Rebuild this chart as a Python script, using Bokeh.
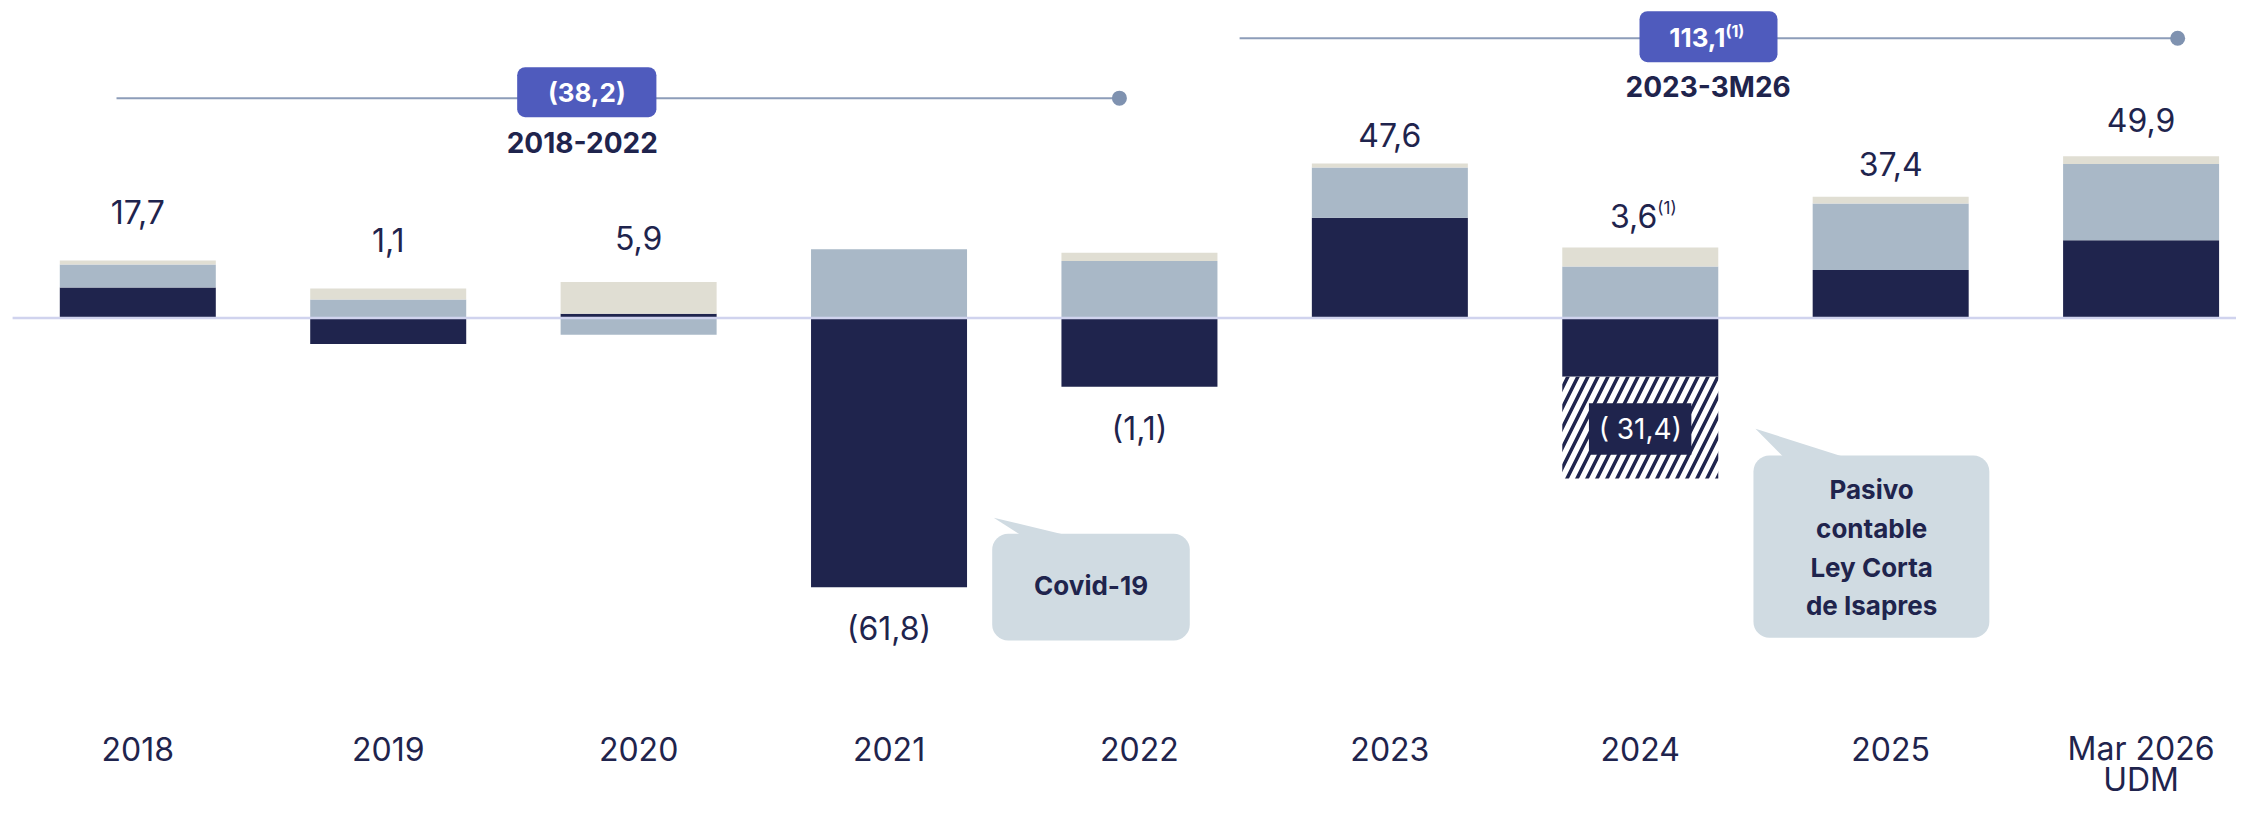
import numpy as np
from bokeh.plotting import figure
from bokeh.models import Range1d
from bokeh.core.properties import value
from bokeh.embed import file_html
from bokeh.resources import INLINE

# ---------------- data ----------------
anios = ["2018", "2019", "2020", "2021", "2022", "2023", "2024", "2025", "Mar 2026"]
sub_etiqueta = ["", "", "", "", "", "", "", "", "UDM"]
oscuro = [9.4, -8.0, 1.3, -83.0, -21.2, 30.9, -18.1, 14.8, 24.0]
gris = [7.1, 5.7, -5.2, 21.2, 17.6, 15.5, 15.9, 20.5, 23.5]
beige = [1.2, 3.4, 9.8, 0.0, 2.5, 1.2, 5.8, 2.1, 2.4]
pasivo = [0.0, 0.0, 0.0, 0.0, 0.0, 0.0, -31.4, 0.0, 0.0]
totales = ["17,7", "1,1", "5,9", "(61,8)", "(1,1)", "47,6", "3,6", "37,4", "49,9"]
pasivo_etiqueta = "( 31,4)"
periodos = ["2018-2022", "2023-3M26"]
acumulados = ["(38,2)", "113,1"]
nota = "(1)"
callout_covid = ["Covid-19"]
callout_pasivo = ["Pasivo", "contable", "Ley Corta", "de Isapres"]

# ---------------- styles / layout ----------------
NAVY = "#1f244d"
GRIS = "#a9b8c7"
BEIGE = "#e0ded3"
BASE = "#d0d3ee"
LINEA = "#8d9db9"
PUNTO = "#7f92b0"
AZUL = "#4f5bbd"
CALLOUT = "#d0dbe2"
FONT = value("Inter")

W, H = 2236, 800
x = np.arange(len(anios))
BAR_W = 0.623

# label vertical positions (value units)
label_y = [32.7, 24.2, 24.8, -95.8, -34.1, 56.3, 31.6, 47.6, 60.9]

p = figure(width=W, height=H, x_range=Range1d(-0.5483, 8.3810), y_range=Range1d(-148.79, 97.90),
           output_backend="svg", toolbar_location=None, min_border=0,
           outline_line_color=None, background_fill_color="white", border_fill_color="white")
p.xaxis.visible = False
p.yaxis.visible = False
p.grid.visible = False

# ---- stacked bars ----
pos_base = np.zeros(len(anios))
neg_base = np.zeros(len(anios))
series = [(oscuro, NAVY, None), (gris, GRIS, None), (beige, BEIGE, None), (pasivo, "white", "/")]
for vals, color, hatch in series:
    v = np.array(vals, dtype=float)
    bottom = np.where(v >= 0, pos_base, neg_base)
    top = bottom + v
    pos_base = np.where(v >= 0, top, pos_base)
    neg_base = np.where(v < 0, top, neg_base)
    mask = v != 0
    if hatch:
        p.vbar(x=x[mask], bottom=bottom[mask], top=top[mask], width=BAR_W, fill_color="white",
               line_color=None, hatch_pattern=hatch, hatch_color=NAVY, hatch_scale=20, hatch_weight=3.5)
    else:
        p.vbar(x=x[mask], bottom=bottom[mask], top=top[mask], width=BAR_W, fill_color=color,
               line_color=None)

# baseline
p.segment(x0=[-0.50], y0=[0], x1=[8.40], y1=[0], line_color=BASE, line_width=2.5)

# ---- value labels ----
idx_normal = [i for i in range(len(anios)) if i != 6]
p.text(x=[x[i] for i in idx_normal], y=[label_y[i] for i in idx_normal],
       text=[totales[i] for i in idx_normal], text_font=FONT, text_font_size="32px",
       text_color=NAVY, text_align="center", text_baseline="middle")
# 2024 with superscript
p.text(x=[x[6]], y=[label_y[6]], text=[totales[6]], text_font=FONT, text_font_size="32px",
       text_color=NAVY, text_align="right", text_baseline="middle", x_offset=17)
p.text(x=[x[6]], y=[label_y[6]], text=[nota], text_font=FONT, text_font_size="17px",
       text_color=NAVY, text_align="left", text_baseline="middle", x_offset=17, y_offset=-8)

# pasivo label box
p.quad(left=[5.795], right=[6.204], top=[-26.27], bottom=[-42.18], fill_color=NAVY, line_color=None)
p.text(x=[x[6]], y=[-34.2], text=[pasivo_etiqueta], text_font=FONT, text_font_size="28px",
       text_color="white", text_align="center", text_baseline="middle")

# ---- x labels ----
p.text(x=x, y=[-132.9] * len(anios), text=anios, text_font=FONT, text_font_size="32px",
       text_color=NAVY, text_align="center", text_baseline="middle")
p.text(x=x, y=[-142.3] * len(anios), text=sub_etiqueta, text_font=FONT, text_font_size="32px",
       text_color=NAVY, text_align="center", text_baseline="middle")

# ---- period brackets ----
# 2018-2022
p.segment(x0=[-0.085], y0=[67.78], x1=[3.92], y1=[67.78], line_color=LINEA, line_width=2)
p.scatter(x=[3.92], y=[67.78], size=15, fill_color=PUNTO, line_color=None)
p.quad(left=[1.515], right=[2.071], top=[77.34], bottom=[61.92], fill_color=AZUL,
       line_color=None, border_radius=8)
p.text(x=[1.793], y=[69.63], text=[acumulados[0]], text_font=FONT, text_font_size="26px",
       text_font_style="bold", text_color="white", text_align="center", text_baseline="middle")
p.text(x=[1.775], y=[53.96], text=[periodos[0]], text_font=FONT, text_font_size="28px",
       text_font_style="bold", text_color=NAVY, text_align="center", text_baseline="middle")

# 2023-3M26
p.segment(x0=[4.40], y0=[86.28], x1=[8.146], y1=[86.28], line_color=LINEA, line_width=2)
p.scatter(x=[8.146], y=[86.28], size=15, fill_color=PUNTO, line_color=None)
p.quad(left=[5.997], right=[6.548], top=[94.6], bottom=[78.88], fill_color=AZUL,
       line_color=None, border_radius=8)
p.text(x=[6.34], y=[86.59], text=[acumulados[1]], text_font=FONT, text_font_size="26px",
       text_font_style="bold", text_color="white", text_align="right", text_baseline="middle")
p.text(x=[6.34], y=[86.59], text=[nota], text_font=FONT, text_font_size="16px",
       text_font_style="bold", text_color="white", text_align="left", text_baseline="middle", y_offset=-6)
p.text(x=[6.271], y=[71.17], text=[periodos[1]], text_font=FONT, text_font_size="28px",
       text_font_style="bold", text_color=NAVY, text_align="center", text_baseline="middle")

# ---- callouts ----
# Covid-19
p.patch(x=[3.418, 3.538, 3.738], y=[-61.61, -67.5, -67.5], fill_color=CALLOUT, line_color=None)
p.quad(left=[3.412], right=[4.201], top=[-66.54], bottom=[-99.45], fill_color=CALLOUT,
       line_color=None, border_radius=16)
p.text(x=[3.807], y=[-82.49], text=callout_covid, text_font=FONT, text_font_size="26px",
       text_font_style="bold", text_color=NAVY, text_align="center", text_baseline="middle")

# Pasivo contable
p.patch(x=[6.460, 6.58, 6.839], y=[-34.17, -43.5, -43.5], fill_color=CALLOUT, line_color=None)
p.quad(left=[6.452], right=[7.394], top=[-42.4], bottom=[-98.61], fill_color=CALLOUT,
       line_color=None, border_radius=16)
p.text(x=[6.924] * 4, y=[-52.88, -64.91, -76.93, -88.65], text=callout_pasivo, text_font=FONT,
       text_font_size="26px", text_font_style="bold", text_color=NAVY, text_align="center",
       text_baseline="middle")

open("out.html", "w").write(file_html(p, INLINE))
